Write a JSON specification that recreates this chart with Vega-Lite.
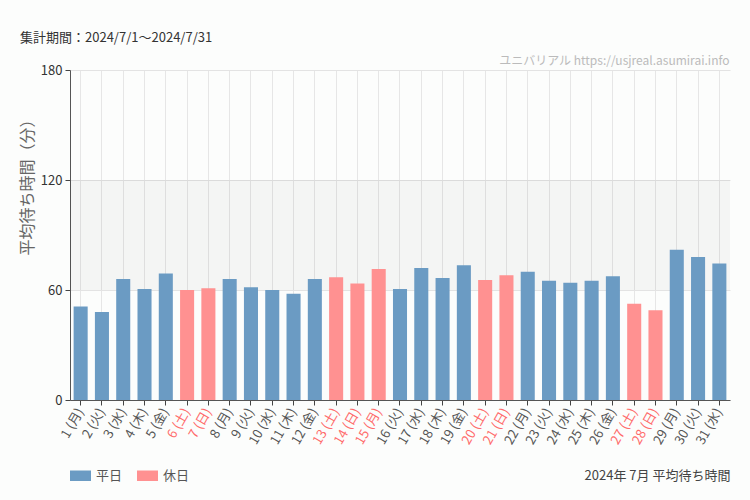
{
  "$schema": "https://vega.github.io/schema/vega-lite/v6.json",
  "width": 660,
  "height": 330,
  "autosize": {"type": "none"},
  "padding": {"left": 70, "top": 70, "right": 20, "bottom": 100},
  "background": "#fcfdfc",
  "config": {"view": {"stroke": null}, "font": "Noto Sans CJK JP"},
  "title": {
    "text": "集計期間：2024/7/1〜2024/7/31",
    "anchor": "start",
    "frame": "group",
    "dx": -50,
    "offset": 9,
    "fontSize": 13,
    "fontWeight": "normal",
    "color": "#333"
  },
  "datasets": {
    "band": [{"lo": 60, "hi": 120}],
    "bars": [
      {"label": "1 (月)", "type": "平日", "wait": 51},
      {"label": "2 (火)", "type": "平日", "wait": 48},
      {"label": "3 (水)", "type": "平日", "wait": 66},
      {"label": "4 (木)", "type": "平日", "wait": 60.5},
      {"label": "5 (金)", "type": "平日", "wait": 69},
      {"label": "6 (土)", "type": "休日", "wait": 60},
      {"label": "7 (日)", "type": "休日", "wait": 61},
      {"label": "8 (月)", "type": "平日", "wait": 66},
      {"label": "9 (火)", "type": "平日", "wait": 61.5},
      {"label": "10 (水)", "type": "平日", "wait": 60},
      {"label": "11 (木)", "type": "平日", "wait": 58},
      {"label": "12 (金)", "type": "平日", "wait": 66},
      {"label": "13 (土)", "type": "休日", "wait": 67},
      {"label": "14 (日)", "type": "休日", "wait": 63.5},
      {"label": "15 (月)", "type": "休日", "wait": 71.5},
      {"label": "16 (火)", "type": "平日", "wait": 60.5},
      {"label": "17 (水)", "type": "平日", "wait": 72},
      {"label": "18 (木)", "type": "平日", "wait": 66.5},
      {"label": "19 (金)", "type": "平日", "wait": 73.5},
      {"label": "20 (土)", "type": "休日", "wait": 65.5},
      {"label": "21 (日)", "type": "休日", "wait": 68},
      {"label": "22 (月)", "type": "平日", "wait": 70},
      {"label": "23 (火)", "type": "平日", "wait": 65},
      {"label": "24 (水)", "type": "平日", "wait": 64},
      {"label": "25 (木)", "type": "平日", "wait": 65},
      {"label": "26 (金)", "type": "平日", "wait": 67.5},
      {"label": "27 (土)", "type": "休日", "wait": 52.5},
      {"label": "28 (日)", "type": "休日", "wait": 49},
      {"label": "29 (月)", "type": "平日", "wait": 82},
      {"label": "30 (火)", "type": "平日", "wait": 78},
      {"label": "31 (水)", "type": "平日", "wait": 74.5}
    ]
  },
  "layer": [
    {
      "data": {"name": "band"},
      "mark": {"type": "rect", "fill": "#000", "opacity": 0.03},
      "encoding": {
        "y": {
          "field": "lo",
          "type": "quantitative",
          "scale": {"domain": [0, 180]},
          "axis": {
            "orient": "right",
            "labels": false,
            "ticks": false,
            "domain": false,
            "grid": false,
            "title": "ユニバリアル  https://usjreal.asumirai.info",
            "titleAngle": 0,
            "titleX": -1,
            "titleY": -10,
            "titleAlign": "right",
            "titleBaseline": "middle",
            "titleColor": "#bbbbbb",
            "titleFontSize": 12,
            "titleFontWeight": "normal"
          }
        },
        "y2": {"field": "hi"}
      }
    },
    {
      "data": {"name": "bars"},
      "mark": {"type": "bar"},
      "encoding": {
        "x": {
          "field": "label",
          "type": "nominal",
          "sort": null,
          "scale": {"paddingInner": 0.34, "paddingOuter": 0.17},
          "axis": {
            "labelAngle": -60,
            "labelAlign": "right",
            "labelBaseline": "middle",
            "labelFontSize": 13,
            "labelPadding": 4,
            "labelColor": {
              "condition": {
                "test": "indexof(['6 (土)','7 (日)','13 (土)','14 (日)','15 (月)','20 (土)','21 (日)','27 (土)','28 (日)'], datum.value) >= 0",
                "value": "#ff6b6b"
              },
              "value": "#555555"
            },
            "tickSize": 5,
            "tickColor": "#444",
            "domainColor": "#555",
            "grid": true,
            "gridColor": "#e6e6e6",
            "title": "2024年 7月 平均待ち時間",
            "titleX": 660,
            "titleY": 75,
            "titleAlign": "right",
            "titleAnchor": "end",
            "titleBaseline": "middle",
            "titleFontSize": 13,
            "titleFontWeight": "normal",
            "titleColor": "#444"
          }
        },
        "y": {
          "field": "wait",
          "type": "quantitative",
          "scale": {"domain": [0, 180]},
          "axis": {
            "orient": "left",
            "values": [0, 60, 120, 180],
            "grid": true,
            "gridColor": "#e3e3e3",
            "domainColor": "#555",
            "tickColor": "#444",
            "tickSize": 5,
            "labelFontSize": 13,
            "labelColor": "#333",
            "labelPadding": 3,
            "title": "平均待ち時間（分）",
            "titleX": -43,
            "titleY": 113,
            "titleAngle": -90,
            "titleAlign": "center",
            "titleBaseline": "middle",
            "titleFontSize": 16,
            "titleFontWeight": "normal",
            "titleColor": "#666"
          }
        },
        "color": {
          "field": "type",
          "type": "nominal",
          "scale": {"domain": ["平日", "休日"], "range": ["#6b9bc3", "#ff9191"]},
          "legend": {
            "orient": "none",
            "legendX": 0,
            "legendY": 395,
            "direction": "horizontal",
            "title": null,
            "symbolType": "M-1,-0.5H1V0.5H-1Z",
            "symbolSize": 440,
            "symbolStrokeWidth": 0,
            "symbolOpacity": 1,
            "labelFontSize": 13,
            "labelColor": "#555",
            "labelOffset": 5,
            "columnPadding": 14
          }
        }
      }
    }
  ],
  "resolve": {"axis": {"y": "independent"}}
}
